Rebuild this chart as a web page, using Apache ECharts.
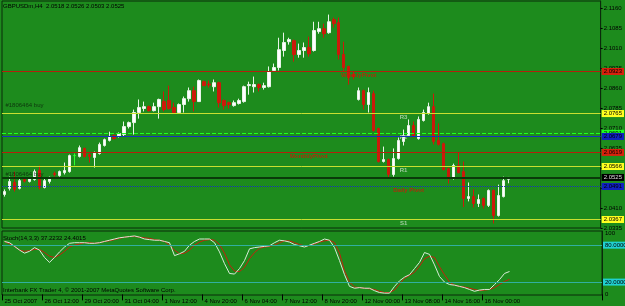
<!DOCTYPE html>
<html>
<head>
<meta charset="utf-8">
<script src="https://cdn.jsdelivr.net/npm/echarts@6/dist/echarts.min.js"></script>
<style>
  html, body { margin: 0; padding: 0; background: #1d8b1d; }
  #chart { width: 625px; height: 306px; }
</style>
</head>
<body>
<div id="chart"></div>
<script>
// GBPUSDm H4 bars, [open, close, low, high]
const candles = [
  [2.0461, 2.0472, 2.0453, 2.0480], [2.0484, 2.0510, 2.0476, 2.0528], [2.0506, 2.0480, 2.0472, 2.0547],
  [2.0484, 2.0513, 2.0480, 2.0525], [2.0517, 2.0511, 2.0506, 2.0525], [2.0510, 2.0521, 2.0506, 2.0525],
  [2.0517, 2.0547, 2.0513, 2.0555], [2.0551, 2.0487, 2.0480, 2.0570], [2.0487, 2.0513, 2.0484, 2.0525],
  [2.0510, 2.0525, 2.0502, 2.0528], [2.0540, 2.0536, 2.0528, 2.0547], [2.0532, 2.0547, 2.0528, 2.0551],
  [2.0543, 2.0551, 2.0536, 2.0581], [2.0547, 2.0607, 2.0543, 2.0611], [2.0607, 2.0607, 2.0570, 2.0615],
  [2.0604, 2.0637, 2.0600, 2.0645], [2.0634, 2.0604, 2.0600, 2.0637], [2.0611, 2.0604, 2.0581, 2.0615],
  [2.0600, 2.0619, 2.0562, 2.0622], [2.0615, 2.0649, 2.0611, 2.0656], [2.0645, 2.0667, 2.0641, 2.0671],
  [2.0664, 2.0679, 2.0660, 2.0697], [2.0682, 2.0671, 2.0667, 2.0686], [2.0679, 2.0690, 2.0675, 2.0694],
  [2.0686, 2.0716, 2.0679, 2.0735], [2.0716, 2.0731, 2.0709, 2.0735], [2.0731, 2.0769, 2.0686, 2.0780],
  [2.0769, 2.0788, 2.0746, 2.0818], [2.0784, 2.0791, 2.0773, 2.0810], [2.0791, 2.0776, 2.0773, 2.0795],
  [2.0776, 2.0791, 2.0773, 2.0806], [2.0791, 2.0818, 2.0746, 2.0821], [2.0810, 2.0780, 2.0773, 2.0848],
  [2.0814, 2.0784, 2.0780, 2.0870], [2.0788, 2.0769, 2.0765, 2.0806], [2.0769, 2.0799, 2.0765, 2.0803],
  [2.0799, 2.0821, 2.0769, 2.0829], [2.0821, 2.0851, 2.0810, 2.0863], [2.0851, 2.0810, 2.0773, 2.0866],
  [2.0810, 2.0889, 2.0810, 2.0893], [2.0885, 2.0870, 2.0870, 2.0889], [2.0876, 2.0872, 2.0863, 2.0889],
  [2.0866, 2.0881, 2.0848, 2.0893], [2.0881, 2.0806, 2.0788, 2.0885], [2.0814, 2.0795, 2.0780, 2.0818],
  [2.0806, 2.0799, 2.0784, 2.0810], [2.0795, 2.0806, 2.0791, 2.0814], [2.0803, 2.0814, 2.0799, 2.0821],
  [2.0810, 2.0866, 2.0806, 2.0870], [2.0870, 2.0874, 2.0836, 2.0885], [2.0866, 2.0874, 2.0844, 2.0904],
  [2.0874, 2.0863, 2.0848, 2.0878], [2.0863, 2.0870, 2.0855, 2.0881], [2.0866, 2.0923, 2.0863, 2.0942],
  [2.0927, 2.0938, 2.0923, 2.0953], [2.0938, 2.1005, 2.0927, 2.1050], [2.1002, 2.1032, 2.0979, 2.1069],
  [2.1035, 2.1043, 2.1024, 2.1050], [2.1039, 2.0987, 2.0960, 2.1043], [2.0987, 2.1002, 2.0975, 2.1028],
  [2.1002, 2.1013, 2.0975, 2.1032], [2.1013, 2.0990, 2.0979, 2.1054], [2.1002, 2.1077, 2.0998, 2.1110],
  [2.1073, 2.1084, 2.1065, 2.1110], [2.1084, 2.1065, 2.1050, 2.1103], [2.1069, 2.1110, 2.1065, 2.1137],
  [2.1118, 2.1103, 2.1088, 2.1126], [2.1107, 2.0987, 2.0968, 2.1126], [2.0987, 2.0938, 2.0923, 2.1035],
  [2.0942, 2.0900, 2.0874, 2.0945], [2.0911, 2.0904, 2.0893, 2.0923], [2.0818, 2.0851, 2.0814, 2.0863],
  [2.0851, 2.0799, 2.0780, 2.0855], [2.0799, 2.0844, 2.0769, 2.0863], [2.0840, 2.0701, 2.0697, 2.0851],
  [2.0709, 2.0585, 2.0581, 2.0712], [2.0585, 2.0592, 2.0581, 2.0641], [2.0592, 2.0536, 2.0525, 2.0596],
  [2.0536, 2.0596, 2.0528, 2.0634], [2.0596, 2.0664, 2.0592, 2.0675], [2.0660, 2.0682, 2.0645, 2.0705],
  [2.0682, 2.0720, 2.0679, 2.0743], [2.0720, 2.0679, 2.0675, 2.0735], [2.0671, 2.0743, 2.0667, 2.0754],
  [2.0739, 2.0769, 2.0735, 2.0780], [2.0765, 2.0791, 2.0761, 2.0806], [2.0791, 2.0660, 2.0649, 2.0840],
  [2.0664, 2.0649, 2.0645, 2.0728], [2.0652, 2.0555, 2.0551, 2.0656], [2.0558, 2.0525, 2.0502, 2.0562],
  [2.0525, 2.0570, 2.0517, 2.0577], [2.0570, 2.0543, 2.0540, 2.0619], [2.0547, 2.0446, 2.0414, 2.0585],
  [2.0446, 2.0453, 2.0435, 2.0506], [2.0453, 2.0427, 2.0412, 2.0480], [2.0427, 2.0442, 2.0414, 2.0461],
  [2.0446, 2.0420, 2.0408, 2.0450], [2.0420, 2.0476, 2.0414, 2.0480], [2.0476, 2.0382, 2.0352, 2.0480],
  [2.0382, 2.0457, 2.0378, 2.0498], [2.0453, 2.0513, 2.0450, 2.0528], [2.0518, 2.0525, 2.0503, 2.0526]
];

// Stochastic(14,3,3)
const stochMain = [
  86, 84, 78, 72, 67, 70, 76, 72, 60, 52, 60, 69, 77, 83, 84, 84, 84, 83, 83, 84,
  86, 88, 90, 92, 93, 94, 95, 93, 90, 89, 88, 88, 86, 84, 63, 66, 70, 80, 86, 90,
  90, 90, 84, 69, 50, 34, 33, 42, 55, 74, 76, 77, 78, 79, 84, 88, 87, 85, 81, 79,
  77, 80, 83, 86, 90, 88, 76, 55, 32, 13, 10, 11, 10, 10, 6, 3, 2, 2, 13, 22,
  28, 32, 42, 52, 68, 65, 48, 29, 20, 16, 15, 13, 11, 8, 5, 7, 8, 8, 16, 24,
  34, 37.2
];
const stochSignal = [
  86, 82, 78, 72, 70, 71, 73, 73, 68, 62, 60, 64, 70, 77, 80, 82, 84, 84, 83, 84,
  86, 87, 89, 91, 93, 94, 94, 93, 92, 91, 89, 88, 86, 80, 72, 66, 67, 72, 80, 85,
  88, 89, 88, 81, 67, 48, 38, 37, 44, 58, 68, 75, 77, 78, 80, 84, 87, 87, 84, 81,
  79, 79, 82, 85, 87, 88, 84, 67, 38, 20, 12, 11, 10, 9, 8, 5, 3, 3, 7, 17,
  26, 31, 36, 46, 58, 62, 60, 45, 32, 20, 15, 13, 12, 10, 8, 6, 7, 8, 11, 16,
  21, 24.4
];

const tickLabels = [
  '25 Oct 2007', '26 Oct 12:00', '29 Oct 20:00', '31 Oct 04:00', '1 Nov 12:00',
  '4 Nov 20:00', '6 Nov 04:00', '7 Nov 12:00', '8 Nov 20:00', '12 Nov 00:00',
  '13 Nov 08:00', '14 Nov 16:00', '16 Nov 00:00'
];

// horizontal levels: price, line colour, box colour, text colour, style
const levelPrices = [2.0923, 2.0765, 2.0691, 2.0679, 2.0619, 2.0566, 2.0525, 2.0491, 2.0367];
const levelColors = ['#b4200c', '#c8e030', '#20ff20', '#1830c0', '#b4200c', '#c8e030', '#0a3a0a', '#1830c0', '#c8e030'];
const levelBoxes = ['#d8200c', '#ffff20', '#20ff20', '#1020c0', '#d8200c', '#ffff20', '#000000', '#1020c0', '#ffff20'];
const levelText = ['#000', '#000', '#000', '#000', '#000', '#000', '#ddd', '#000', '#000'];
const levelTypes = ['solid', 'solid', 'dashed', 'solid', 'solid', 'solid', 'solid', 'dotted', 'solid'];
const levelWidths = [1, 1, 1, 1, 1, 1, 2, 1, 1];

// text objects on the chart: [bar index, price, text, colour, bold]
const chartNotes = [
  [71, 2.0909, 'WeeklyPivot', '#d01808', true],
  [61, 2.0605, 'MonthlyPivot', '#d01808', true],
  [81, 2.0476, 'Daily Pivot', '#d01808', true],
  [80, 2.0752, 'R3', '#c0dcc0', true],
  [80, 2.0675, 'R2', '#c0dcc0', true],
  [80, 2.0552, 'R1', '#c0dcc0', true],
  [80, 2.0354, 'S1', '#c0dcc0', true],
  [4, 2.0795, '#1806464 buy', '#0a200a', false],
  [4, 2.0538, '#1806464 buy', '#0a200a', false]
];

const stochLevels = [80, 20];

const barCount = 120;
const categories = [];
for (let i = 0; i < barCount; i++) categories.push(i);

const chart = echarts.init(document.getElementById('chart'), null, { renderer: 'canvas' });
const font = 'Liberation Sans';
const smallText = { fontSize: 6, fontWeight: 'normal', color: '#000', fontFamily: font };

const levelLines = levelPrices.map((p, i) => ({
  yAxis: p,
  lineStyle: { color: levelColors[i], type: levelTypes[i], width: levelWidths[i] },
  label: {
    show: true, position: 'end', distance: 1, formatter: p.toFixed(4),
    backgroundColor: levelBoxes[i], color: levelText[i], padding: [1, 2, 0, 2],
    fontSize: 6, fontFamily: font
  }
}));

const isTick = (idx) => idx % 8 === 0 && idx / 8 < tickLabels.length;

chart.setOption({
  backgroundColor: '#1d8b1d',
  animation: false,
  title: [
    { text: 'GBPUSDm,H4  2.0518 2.0526 2.0503 2.0525', left: 3, top: 3, padding: 0, textStyle: smallText },
    { text: 'Stoch(14,3,3) 37.2232 24.4015', left: 3, top: 235, padding: 0, textStyle: smallText },
    { text: 'Interbank FX Trader 4, \u00a9 2001-2007 MetaQuotes Software Corp.', left: 3, top: 287, padding: 0, textStyle: smallText }
  ],
  grid: [
    { left: 2, width: 600, top: 1, height: 227, show: true, borderColor: '#0a2a0a', borderWidth: 1, backgroundColor: 'transparent' },
    { left: 2, width: 600, top: 231, height: 64, show: true, borderColor: '#0a2a0a', borderWidth: 1, backgroundColor: 'transparent' }
  ],
  xAxis: [
    { type: 'category', gridIndex: 0, data: categories, boundaryGap: true,
      axisLine: { show: false }, axisTick: { show: false }, axisLabel: { show: false }, splitLine: { show: false } },
    { type: 'category', gridIndex: 1, data: categories, boundaryGap: true,
      axisLine: { show: false },
      axisTick: { show: true, inside: false, length: 6, lineStyle: { color: '#000' }, interval: isTick },
      axisLabel: { show: true, fontSize: 6, fontFamily: font, color: '#000', align: 'left', margin: 3,
        interval: isTick, formatter: (v, idx) => tickLabels[idx / 8] || '' },
      splitLine: { show: false } }
  ],
  yAxis: [
    { type: 'value', gridIndex: 0, position: 'right', min: 2.0335, max: 2.1188, interval: 0.0075,
      axisLine: { show: true, lineStyle: { color: '#0a2a0a' } },
      axisTick: { show: true, length: 2, lineStyle: { color: '#000' } },
      axisLabel: { fontSize: 6, fontFamily: font, color: '#000', margin: 3,
        formatter: (v) => v.toFixed(4), showMaxLabel: false },
      splitLine: { show: false } },
    { type: 'value', gridIndex: 1, position: 'right', min: -1, max: 103, interval: 100,
      axisLine: { show: true, lineStyle: { color: '#0a2a0a' } },
      axisTick: { show: false },
      axisLabel: { fontSize: 6, fontFamily: font, color: '#000', margin: 3,
        customValues: [0, 100], formatter: (v) => String(v) },
      splitLine: { show: false } }
  ],
  series: [
    {
      type: 'candlestick', xAxisIndex: 0, yAxisIndex: 0, data: candles, barWidth: 3,
      itemStyle: {
        color: '#ffffff', color0: '#cc1a0a',
        borderColor: '#e8f4e8', borderColor0: '#cc1a0a', borderColorDoji: '#30ff30', borderWidth: 1
      },
      markLine: { silent: true, symbol: 'none', precision: 4, z: 10, data: levelLines, animation: false }
    },
    {
      type: 'scatter', xAxisIndex: 0, yAxisIndex: 0, symbolSize: 0, z: 5,
      data: chartNotes.map(n => ({
        value: [n[0], n[1]],
        label: { formatter: n[2], color: n[3], fontWeight: n[4] ? 'bold' : 'normal' }
      })),
      label: { show: true, position: 'inside', fontSize: 6, fontFamily: font }
    },
    {
      type: 'line', xAxisIndex: 1, yAxisIndex: 1, data: stochSignal, showSymbol: false,
      lineStyle: { color: '#c8200c', width: 1 },
      markLine: {
        silent: true, symbol: 'none', precision: 4,
        data: stochLevels.map(v => ({
          yAxis: v, lineStyle: { color: '#30b0a0', type: 'solid', width: 1 },
          label: { show: true, position: 'end', distance: 1, formatter: v.toFixed(4),
            backgroundColor: '#20d0d0', color: '#000', padding: [1, 2, 0, 2], fontSize: 6, fontFamily: font }
        }))
      }
    },
    {
      type: 'line', xAxisIndex: 1, yAxisIndex: 1, data: stochMain, showSymbol: false,
      lineStyle: { color: '#d8ecd8', width: 1 }
    }
  ]
});
</script>
</body>
</html>
